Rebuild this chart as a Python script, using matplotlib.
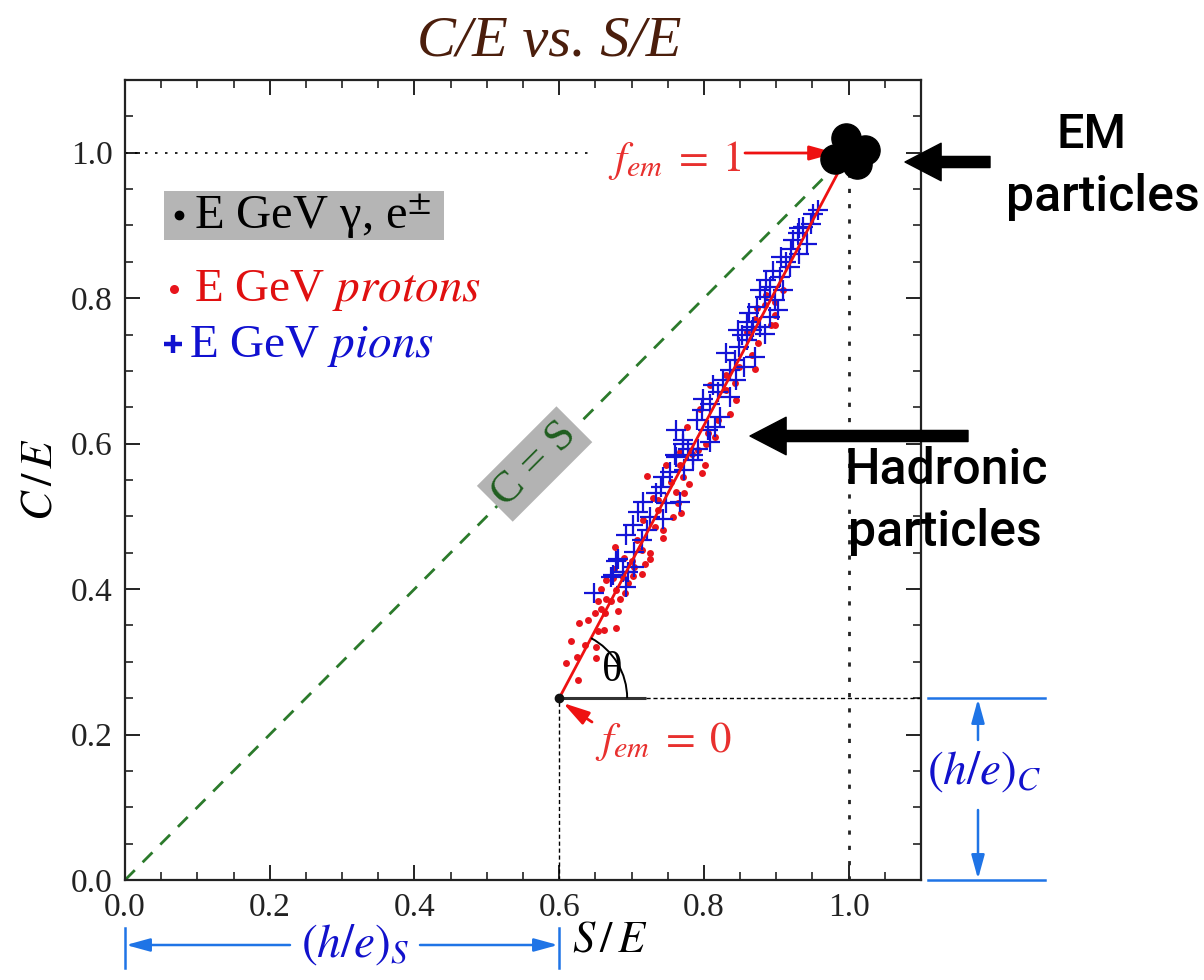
import matplotlib
matplotlib.use('Agg')
import matplotlib.pyplot as plt
from matplotlib.patches import Arc, Rectangle
from matplotlib.lines import Line2D

plt.rcParams['font.family'] = ['Liberation Serif', 'DejaVu Serif']
plt.rcParams['mathtext.fontset'] = 'stix'

# ---------------- data ----------------
tick_values = [0.0, 0.2, 0.4, 0.6, 0.8, 1.0]
tick_labels = ['0.0', '0.2', '0.4', '0.6', '0.8', '1.0']

proton_x = [0.626, 0.610, 0.625, 0.651, 0.616, 0.635, 0.651, 0.628, 0.640, 0.654,
            0.662, 0.678, 0.649, 0.663, 0.658, 0.681, 0.672, 0.653, 0.665, 0.684,
            0.691, 0.679, 0.658, 0.665, 0.674, 0.695, 0.702, 0.714, 0.718, 0.704,
            0.677, 0.689, 0.676, 0.688, 0.725, 0.725, 0.744, 0.744, 0.732, 0.757,
            0.769, 0.764, 0.773, 0.762, 0.721, 0.748, 0.767, 0.801, 0.797, 0.780,
            0.771, 0.737, 0.716, 0.707, 0.714, 0.700, 0.737, 0.730, 0.755,
            0.776, 0.794, 0.806, 0.815, 0.803, 0.819, 0.836, 0.808, 0.831, 0.843,
            0.849, 0.870, 0.866, 0.875, 0.859, 0.898, 0.792, 0.783, 0.767, 0.831,
            0.845, 0.886, 0.884, 0.898, 0.898, 0.893, 0.870, 0.873, 0.909]
proton_y = [0.275, 0.299, 0.307, 0.305, 0.329, 0.323, 0.320, 0.353, 0.358, 0.343,
            0.344, 0.346, 0.367, 0.367, 0.373, 0.370, 0.384, 0.384, 0.386, 0.386,
            0.395, 0.399, 0.400, 0.412, 0.415, 0.408, 0.418, 0.421, 0.434, 0.431,
            0.458, 0.443, 0.428, 0.417, 0.442, 0.449, 0.470, 0.481, 0.485, 0.499,
            0.505, 0.519, 0.532, 0.534, 0.555, 0.570, 0.570, 0.570, 0.559, 0.545,
            0.554, 0.522, 0.495, 0.467, 0.454, 0.438, 0.509, 0.525, 0.547,
            0.623, 0.648, 0.614, 0.609, 0.600, 0.632, 0.641, 0.680, 0.674, 0.683,
            0.705, 0.703, 0.722, 0.738, 0.754, 0.763, 0.591, 0.586, 0.589, 0.694,
            0.660, 0.804, 0.790, 0.795, 0.777, 0.763, 0.772, 0.786, 0.811]

pion_x = [0.648, 0.672, 0.693, 0.688, 0.704, 0.679,
          0.674, 0.681, 0.692, 0.702, 0.704, 0.709, 0.716, 0.721, 0.725, 0.734,
          0.741, 0.744, 0.748, 0.767, 0.753, 0.744, 0.762, 0.773, 0.785, 0.792,
          0.771, 0.808, 0.695, 0.714,
          0.762, 0.771, 0.760, 0.778, 0.785, 0.790, 0.797, 0.799, 0.808, 0.813,
          0.819, 0.815, 0.826, 0.836, 0.843, 0.831, 0.849, 0.859, 0.852, 0.866,
          0.877, 0.884, 0.870, 0.856, 0.845, 0.836, 0.822, 0.806,
          0.847, 0.863, 0.859, 0.873, 0.884, 0.877, 0.891, 0.898, 0.902, 0.886,
          0.895, 0.905, 0.914, 0.907, 0.921, 0.932, 0.923, 0.930, 0.942, 0.937,
          0.948, 0.932, 0.951, 0.958, 0.919, 0.909, 0.891, 0.868]
pion_y = [0.394, 0.417, 0.403, 0.424, 0.431, 0.438,
          0.419, 0.442, 0.474, 0.488, 0.451, 0.506, 0.520, 0.481, 0.499, 0.532,
          0.541, 0.497, 0.518, 0.520, 0.561, 0.554, 0.582, 0.564, 0.577, 0.593,
          0.600, 0.602, 0.424, 0.467,
          0.619, 0.605, 0.584, 0.593, 0.584, 0.632, 0.646, 0.662, 0.655, 0.680,
          0.671, 0.623, 0.687, 0.701, 0.715, 0.724, 0.733, 0.742, 0.749, 0.756,
          0.761, 0.751, 0.719, 0.705, 0.687, 0.664, 0.637, 0.619,
          0.756, 0.779, 0.767, 0.788, 0.802, 0.811, 0.816, 0.797, 0.784, 0.825,
          0.838, 0.829, 0.850, 0.857, 0.868, 0.861, 0.880, 0.889, 0.875, 0.898,
          0.902, 0.896, 0.916, 0.921, 0.843, 0.811, 0.774, 0.760]

em_x = [0.997, 1.022, 0.981, 1.011, 1.001]
em_y = [1.020, 1.004, 0.992, 0.985, 0.997]

hadron_line_x = [0.6, 1.0]
hadron_line_y = [0.25, 1.0]
hs = 0.6   # (h/e)_S
hc = 0.25  # (h/e)_C

# ---------------- figure ----------------
W, H = 1204, 980
fig = plt.figure(figsize=(W / 100, H / 100), dpi=100)
ax = fig.add_axes([125 / W, 1 - 880 / H, 796 / W, 800 / H])
ax.set_xlim(0, 1.1)
ax.set_ylim(0, 1.1)


def fp(px, py):
    return (px / W, 1 - py / H)


for s in ax.spines.values():
    s.set_linewidth(1.6)
    s.set_color('#222222')

ax.set_xticks(tick_values)
ax.set_xticklabels(tick_labels)
ax.set_yticks(tick_values)
ax.set_yticklabels(tick_labels)
ax.set_xticks([i * 0.05 for i in range(1, 22) if i % 4 != 0], minor=True)
ax.set_yticks([i * 0.05 for i in range(1, 22) if i % 4 != 0], minor=True)
ax.tick_params(which='both', direction='in', top=True, right=True, colors='#222222')
ax.tick_params(which='major', length=11, width=1.4, labelsize=24, pad=9)
ax.tick_params(which='minor', length=5.5, width=1.2)

# reference lines
ax.plot([0, 0.65], [1.0, 1.0], color='black', lw=1.2, ls=(0, (1.5, 4.5)))
ax.plot([1.0, 1.0], [0, 0.985], color='#222222', lw=2, ls=(0, (1.5, 4)))
ax.plot([hs, 0.72], [hc, hc], color='#333333', lw=2.2, solid_capstyle='butt')
ax.plot([0.72, 1.1], [hc, hc], color='black', lw=1.0, ls=(0, (3, 2)))
ax.plot([hs, hs], [0, hc], color='black', lw=1.0, ls=(0, (3, 2)))

# C = S line
ax.plot([0, 0.985], [0, 0.985], color='#2b7a2b', lw=2, ls=(0, (5, 4)), zorder=2)

# data
ax.plot(proton_x, proton_y, ls='none', marker='o', ms=5, color='#e8141c',
        mec='none', zorder=3)
ax.plot(pion_x, pion_y, ls='none', marker='+', ms=14, mew=1.6, color='#1414d6', zorder=4)
ax.plot(hadron_line_x, hadron_line_y, color='#ee1111', lw=2, zorder=5)
ax.plot(em_x, em_y, ls='none', marker='o', ms=21, color='black', zorder=6)
ax.plot([hs], [hc], marker='o', ms=6, color='#111111', zorder=6)

# theta arc
ax.add_patch(Arc((hs, hc), 2 * 68 / 724, 2 * 68 / 727.5, theta1=0, theta2=62,
                 color='black', lw=1.4, zorder=5))
ax.text(0.673, 0.288, 'θ', fontsize=31, ha='center', va='center', color='black')

# C = S label
ax.text(0.566, 0.572, r'C = S', fontsize=32, color='#1f5e1f', rotation=45,
        rotation_mode='anchor', ha='center', va='center', zorder=7,
        bbox=dict(boxstyle='square,pad=0.12', facecolor='#b3b3b3', edgecolor='none'))

# legend
ax.add_patch(Rectangle((0.054, 0.880), 0.387, 0.068, facecolor='#b5b5b5',
                       edgecolor='none', zorder=6))
ax.plot([0.074], [0.915], marker='o', ms=6, color='black', zorder=7)
ax.text(0.095, 0.913, r'E GeV γ, e$^{\pm}$', fontsize=35, color='black',
        ha='left', va='center', zorder=7)
ax.plot([0.068], [0.812], marker='o', ms=6.5, color='#e8141c', mec='none', zorder=7)
ax.text(0.095, 0.810, r'E GeV $\mathit{protons}$', fontsize=34, color='#e01010',
        ha='left', va='center', zorder=7)
ax.plot([0.066], [0.737], marker='+', ms=13, mew=3.2, color='#1010d0', zorder=7)
ax.text(0.088, 0.733, r'E GeV $\mathit{pions}$', fontsize=34, color='#1010d0',
        ha='left', va='center', zorder=7)

# f_em annotations
red = '#e8302e'
ax.text(0.667, 0.990, r'$f_{em}\;=\;1$', fontsize=31, color=red, ha='left', va='center')
ax.annotate('', xy=fp(836, 153), xytext=fp(745, 153), xycoords='figure fraction',
            textcoords='figure fraction', annotation_clip=False,
            arrowprops=dict(arrowstyle='-|>,head_length=0.8,head_width=0.22',
                            color='#ee1111', lw=2, shrinkA=0, shrinkB=0,
                            mutation_scale=20))
ax.text(0.649, 0.190, r'$f_{em}\;=\;0$', fontsize=31, color=red, ha='left', va='center')
ax.annotate('', xy=fp(563, 703), xytext=fp(592, 722), xycoords='figure fraction',
            textcoords='figure fraction', annotation_clip=False,
            arrowprops=dict(arrowstyle='-|>,head_length=0.8,head_width=0.22',
                            color='#ee1111', lw=2, shrinkA=0, shrinkB=0,
                            mutation_scale=20))

# axis labels and title
fig.text(*fp(610, 940), r'$S\,/\,E$', fontsize=32, ha='center', va='center')
fig.text(*fp(40, 480), r'$C\,/\,E$', fontsize=32, ha='center', va='center', rotation=90)
fig.text(*fp(549, 42), 'C/E vs. S/E', fontsize=42, style='italic', color='#4b1e0c',
         ha='center', va='center')

# black arrows and sans-serif labels
for (x1, x2, y) in [(990, 905, 162), (968, 750, 436)]:
    ax.annotate('', xy=fp(x2, y), xytext=fp(x1, y), xycoords='figure fraction',
                textcoords='figure fraction', annotation_clip=False,
                arrowprops=dict(arrowstyle='simple,head_length=1.3,head_width=1.35,tail_width=0.4',
                                color='black', shrinkA=0, shrinkB=0, mutation_scale=20))
sans = dict(family=['Roboto', 'DejaVu Sans'], weight='medium', color='black',
            ha='center', va='center')
fig.text(*fp(1091, 135), 'EM', fontsize=35, **sans)
fig.text(*fp(1103, 197), 'particles', fontsize=36, **sans)
fig.text(*fp(946, 470), 'Hadronic', fontsize=36, **sans)
fig.text(*fp(945, 532), 'particles', fontsize=36, **sans)

# dimension markers (h/e)_S and (h/e)_C
dim = '#1f74e6'
dtxt = '#1212cc'


def fline(x1, y1, x2, y2):
    fig.add_artist(Line2D([x1 / W, x2 / W], [1 - y1 / H, 1 - y2 / H],
                          transform=fig.transFigure, color=dim, lw=1.8))


def farrow(x1, y1, x2, y2):
    ax.annotate('', xy=fp(x2, y2), xytext=fp(x1, y1), xycoords='figure fraction',
                textcoords='figure fraction', annotation_clip=False,
                arrowprops=dict(arrowstyle='-|>,head_length=0.8,head_width=0.22',
                                color=dim, lw=1.8, shrinkA=0, shrinkB=0,
                                mutation_scale=18))


fline(125, 928, 125, 968)
fline(559, 928, 559, 968)
farrow(290, 945, 126, 945)
farrow(420, 945, 558, 945)
fig.text(*fp(355, 945), r'$(h/e)_S$', fontsize=34, color=dtxt, ha='center', va='center')

fline(928, 698, 1045, 698)
fline(928, 880, 1045, 880)
farrow(978, 740, 978, 699)
farrow(978, 810, 978, 879)
fig.text(*fp(984, 772), r'$(h/e)_C$', fontsize=34, color=dtxt, ha='center', va='center')

fig.savefig('out.png', dpi=100)
